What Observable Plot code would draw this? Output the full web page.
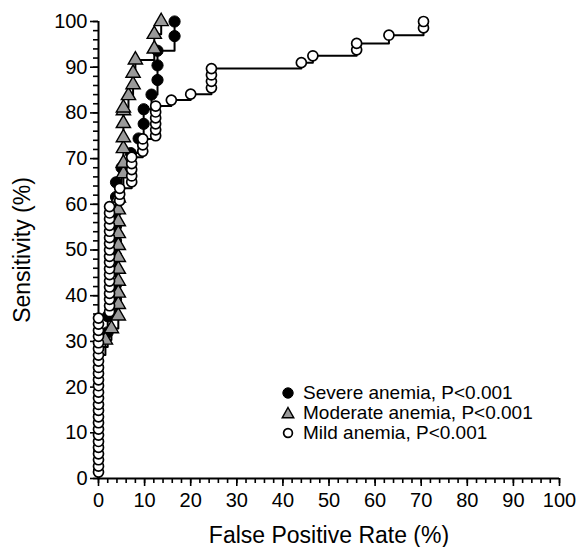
<!DOCTYPE html>
<html>
<head>
<meta charset="utf-8">
<script src="https://cdn.jsdelivr.net/npm/d3@7"></script>
<script src="https://cdn.jsdelivr.net/npm/@observablehq/plot@0.6"></script>
<style>
  body { margin: 0; background: #fff; font-family: "Liberation Sans", Arial, sans-serif; }
  #wrap { position: relative; width: 576px; height: 547px; }
  #legend { position: absolute; left: 281px; top: 383px; font-size: 19px; line-height: 20px; color: #000; }
  #legend .row { display: flex; align-items: center; height: 20px; white-space: nowrap; }
  #legend svg { width: 14px; height: 14px; margin-right: 8px; overflow: visible; }
</style>
</head>
<body>
<div id="wrap"></div>
<script>
// ---- Data ----
const seriesNames = ["Severe anemia, P<0.001", "Moderate anemia, P<0.001", "Mild anemia, P<0.001"];

const severeFpr  = [0, 0, 0, 0, 0, 0, 0, 0, 0, 0, 2.0, 2.0, 3.8, 3.8, 3.8, 3.8, 3.8, 3.8, 3.8, 3.8, 3.8, 5.0, 7.0, 8.7, 9.8, 9.8, 11.5, 12.8, 12.8, 12.8, 16.5, 16.5];
const severeSens = [0, 3.2, 6.4, 9.6, 12.8, 16.0, 19.2, 22.4, 25.6, 28.8, 32.0, 35.5, 39.2, 42.4, 45.6, 48.8, 52.0, 55.2, 58.4, 61.6, 64.8, 68.0, 71.2, 74.4, 77.6, 80.8, 84.0, 87.2, 90.4, 93.6, 96.8, 100];

const moderateFpr  = [0, 0, 0, 0, 0, 0, 0, 0, 0, 0, 0, 1.5, 2.8, 4.3, 4.3, 4.3, 4.3, 4.3, 4.3, 4.3, 4.3, 4.3, 4.3, 4.3, 5.4, 5.4, 5.4, 5.4, 5.4, 5.4, 5.4, 6.5, 7.5, 7.5, 8.0, 12.1, 12.1, 13.6];
const moderateSens = [0, 2.7, 5.4, 8.1, 10.8, 13.5, 16.2, 18.9, 21.6, 24.3, 27.0, 30.3, 32.8, 35.6, 38.1, 40.6, 43.2, 45.8, 48.4, 51.0, 53.6, 56.2, 58.8, 61.4, 66.7, 69.0, 72.2, 74.6, 77.7, 80.5, 81.1, 83.8, 86.2, 88.7, 91.6, 94.0, 97.2, 100];

const mildFpr = [
  0, 0, 0, 0, 0, 0, 0, 0, 0, 0, 0, 0, 0, 0, 0, 0, 0, 0, 0, 0, 0, 0, 0, 0, 0, 0, 0,
  2.4, 2.4, 2.4, 2.4, 2.4, 2.4, 2.4, 2.4, 2.4, 2.4, 2.4, 2.4, 2.4, 2.4, 2.4, 2.4, 2.4, 2.4,
  4.6, 4.6, 4.6,
  7.2, 7.2, 7.2, 7.2, 7.2,
  9.6, 9.6, 9.6,
  12.4, 12.4, 12.4, 12.4, 12.4, 12.4,
  15.8, 20.0,
  24.5, 24.5, 24.5, 24.5,
  44.0, 46.5, 56.0, 56.0, 63.0, 70.5, 70.5
];
const mildSens = [
  0, 1.4, 2.7, 4.1, 5.4, 6.8, 8.1, 9.5, 10.8, 12.2, 13.5, 14.9, 16.2, 17.6, 18.9, 20.3, 21.6, 23.0, 24.3, 25.7, 27.0, 28.4, 29.7, 31.1, 32.4, 33.8, 35.1,
  36.5, 37.8, 39.2, 40.5, 41.9, 43.2, 44.6, 45.9, 47.3, 48.6, 50.0, 51.4, 52.7, 54.1, 55.4, 56.8, 58.1, 59.5,
  60.8, 62.2, 63.5,
  64.9, 66.2, 67.6, 68.9, 70.3,
  71.6, 73.0, 74.3,
  75.0, 76.3, 77.6, 78.9, 80.2, 81.5,
  82.8, 84.1,
  85.5, 86.9, 88.3, 89.7,
  91.0, 92.5, 93.8, 95.2, 97.0, 98.6, 100
];

const xMajorTicks = [0, 10, 20, 30, 40, 50, 60, 70, 80, 90, 100];
const yMajorTicks = [0, 10, 20, 30, 40, 50, 60, 70, 80, 90, 100];
const minorTicks = d3.range(0, 101, 2);
const xTitle = "False Positive Rate (%)";
const yTitle = "Sensitivity (%)";

// ---- Build rows ----
const rows = (fpr, sens) => fpr.map((x, i) => ({fpr: x, sens: sens[i]}));
const severe = rows(severeFpr, severeSens);
const moderate = rows(moderateFpr, moderateSens);
const mild = rows(mildFpr, mildSens);
const hiddenAtZero = d => d.fpr > 0; // points at FPR 0 sit under the mild circles

const chart = Plot.plot({
  width: 576,
  height: 547,
  marginLeft: 98,
  marginRight: 17,
  marginTop: 21,
  marginBottom: 69,
  style: {fontFamily: "Liberation Sans, Arial, sans-serif", fontSize: "20px", color: "#000", background: "#fff", overflow: "visible"},
  x: {domain: [0, 100]},
  y: {domain: [0, 100]},
  marks: [
    Plot.axisX(minorTicks, {tickSize: 5, tickFormat: () => "", strokeWidth: 1.6, label: null}),
    Plot.axisX(xMajorTicks, {tickSize: 8, tickPadding: 6, strokeWidth: 1.6, label: null, fontSize: 20}),
    Plot.axisY(minorTicks, {tickSize: 5, tickFormat: () => "", strokeWidth: 1.6, label: null}),
    Plot.axisY(yMajorTicks, {tickSize: 8, tickPadding: 3, strokeWidth: 1.6, label: null, fontSize: 20}),
    Plot.ruleX([0], {strokeWidth: 2}),
    Plot.ruleY([0], {strokeWidth: 2}),
    Plot.line(severe, {x: "fpr", y: "sens", curve: "step-after", stroke: "black", strokeWidth: 2}),
    Plot.line(moderate, {x: "fpr", y: "sens", curve: "step-after", stroke: "black", strokeWidth: 2}),
    Plot.line(mild, {x: "fpr", y: "sens", curve: "step-after", stroke: "black", strokeWidth: 2}),
    Plot.dot(severe.filter(hiddenAtZero), {x: "fpr", y: "sens", r: 5.6, fill: "black", stroke: "black", strokeWidth: 1}),
    Plot.dot(moderate.filter(hiddenAtZero), {x: "fpr", y: "sens", symbol: "triangle", r: 5.3, fill: "#9a9a9a", stroke: "black", strokeWidth: 1.4}),
    Plot.dot(mild.filter(d => d.sens > 0), {x: "fpr", y: "sens", r: 5, fill: "white", stroke: "black", strokeWidth: 1.7}),
    Plot.text([xTitle], {frameAnchor: "bottom", dy: 57, fontSize: 23, lineAnchor: "middle", textAnchor: "middle"}),
    Plot.text([yTitle], {frameAnchor: "left", dx: -76, rotate: -90, fontSize: 23, lineAnchor: "middle", textAnchor: "middle"})
  ]
});

const wrap = document.getElementById("wrap");
wrap.appendChild(chart);

// ---- Legend ----
const legend = document.createElement("div");
legend.id = "legend";
const legendSymbols = [
  '<circle cx="7" cy="7" r="5.2" fill="black" stroke="black"/>',
  '<path d="M7 1.5 L12.8 11.8 L1.2 11.8 Z" fill="#9a9a9a" stroke="black" stroke-width="1.4"/>',
  '<circle cx="7" cy="7" r="4.4" fill="white" stroke="black" stroke-width="1.7"/>'
];
seriesNames.forEach((name, i) => {
  const row = document.createElement("div");
  row.className = "row";
  row.innerHTML = `<svg viewBox="0 0 14 14">${legendSymbols[i]}</svg><span></span>`;
  row.querySelector("span").textContent = name;
  legend.appendChild(row);
});
wrap.appendChild(legend);
</script>
</body>
</html>
